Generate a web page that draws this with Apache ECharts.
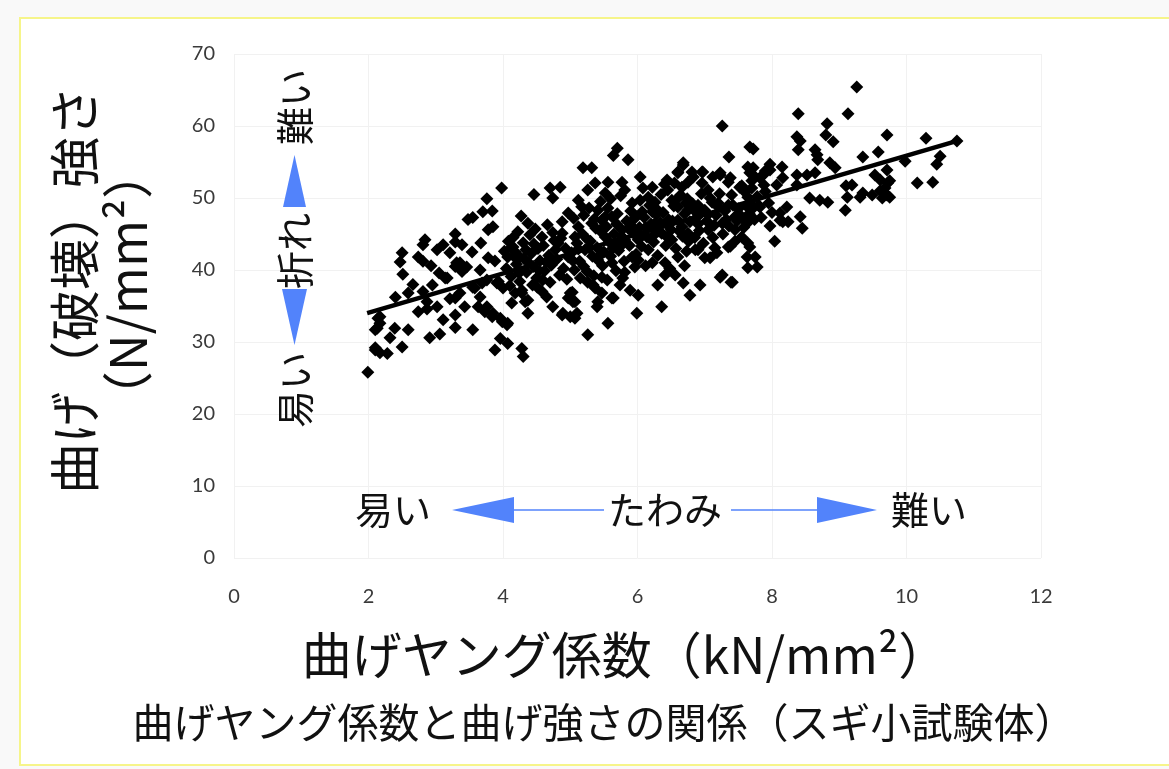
<!DOCTYPE html>
<html>
<head>
<meta charset="utf-8">
<script src="https://cdn.jsdelivr.net/npm/echarts@6/dist/echarts.min.js"></script>
<style>
  html, body { margin: 0; padding: 0; background: #f9f9f9; }
  #frame { position: absolute; left: 19px; top: 17px; width: 1160px; height: 749px;
           background: #ffffff; border: 2px solid #f6f58a; box-sizing: border-box; }
  #chart { position: absolute; left: 0; top: 0; width: 1169px; height: 769px; }
</style>
</head>
<body>
<div id="frame"></div>
<div id="chart"></div>
<script>
// Axis ticks
const xTicks = [0, 2, 4, 6, 8, 10, 12];
const yTicks = [0, 10, 20, 30, 40, 50, 60, 70];

// Specimens: [bending Young's modulus (kN/mm2), bending strength (N/mm2)]
const lowStiffness = [
  [1.99,25.8],[2.10,28.9],[2.28,28.4],[2.32,30.6],[2.50,29.3],[2.10,31.7],[2.39,31.9],[2.59,31.7],
  [2.14,33.3],[2.17,32.6],[2.74,34.2],[2.59,36.8],[2.81,37.0],[2.87,35.6],[3.02,34.9],[3.29,36.1],
  [3.36,36.8],[3.43,34.9],[3.29,33.75],[3.63,34.9],[3.73,34.2],[3.84,33.5],[3.99,32.8],[4.07,32.6],
  [3.11,33.1],[3.29,32.0],[3.55,31.7],[2.91,30.6],[3.06,31.1],[3.96,30.5],[4.07,29.8],[3.88,28.9],
  [4.28,29.1],[4.30,28.0],[4.37,34.0],[4.33,35.6],[4.13,35.4],[4.18,36.8],[3.93,38.4],[4.00,37.5],
  [3.58,37.5],[3.69,38.2],[2.51,39.4],[3.14,38.9],[2.93,40.6],[2.47,41.1],[2.50,42.4],[2.74,41.8],
  [2.81,41.2],[3.36,41.0],[3.29,40.5],[3.39,39.8],[3.78,41.7],[3.88,41.25],[4.13,43.2],[4.18,42.5],
  [4.07,41.8],[3.21,42.4],[3.54,42.5],[3.67,43.75],[3.29,43.9],[3.39,43.5],[3.02,42.8],[3.11,43.5],
  [2.81,43.5],[2.84,44.2],[3.29,45.0],[3.78,45.6],[3.85,46.0],[3.48,47.0],[3.55,47.3],[4.27,47.5],
  [4.37,46.5],[3.70,48.1],[3.84,48.2],[3.76,49.9],[3.98,51.4],[4.46,50.5],[4.70,51.4],[4.74,50.0],
  [4.85,51.5],[2.10,29.2],[2.17,28.5],[2.87,34.6],[3.21,36.0],[2.17,33.5],[2.13,31.9],[3.31,41.0],
  [3.46,40.4],[3.17,38.9],[4.15,43.2],[4.25,41.8],[3.66,40.0],[3.76,38.6],[3.91,38.2],[3.55,37.6],
  [3.66,36.25],[3.76,34.9],[3.85,34.0],[3.96,33.3],[4.06,32.4],[4.28,36.8],[4.37,35.8],[4.51,37.6],
  [4.59,38.6],[4.65,36.25],[4.74,34.9],[2.66,38.0],[2.40,36.2],[2.95,37.9],[3.05,39.6]
];

const midStiffness = [
  [5.70,56.9],[5.64,55.9],[5.86,55.3],[5.19,54.2],[5.32,54.2],[6.04,52.9],[6.68,54.6],[7.36,55.7],
  [7.67,57.1],[7.64,54.3],[7.72,53.2],[6.60,53.5],[6.81,53.6],[6.96,53.6],[7.23,53.5],[7.35,52.2],
  [7.52,51.5],[7.60,50.8],[6.96,52.1],[7.05,51.1],[6.75,52.2],[6.66,51.5],[6.44,52.5],[6.45,51.1],
  [6.22,51.5],[6.16,50.1],[5.77,52.2],[5.81,51.1],[5.56,52.2],[5.52,50.7],[5.37,52.1],[5.26,51.1],
  [5.12,49.7],[5.17,48.8],[4.97,47.9],[4.88,46.7],[5.41,48.3],[5.56,48.6],[5.62,47.4],[5.47,46.9],
  [5.92,49.3],[6.04,49.7],[6.07,48.1],[5.96,47.2],[6.26,49.4],[6.30,48.3],[6.51,49.7],[6.60,48.75],
  [6.74,49.9],[6.75,48.3],[6.90,49.0],[7.00,48.3],[7.11,49.4],[7.20,48.75],[7.35,49.0],[7.45,47.4],
  [7.64,50.1],[7.70,49.0],[7.55,47.4],[7.63,46.5],[4.88,45.1],[5.07,44.6],[5.26,44.2],[5.52,44.6],
  [5.67,43.75],[5.81,44.2],[6.01,44.2],[6.16,42.8],[6.36,45.1],[6.51,44.2],[6.66,46.0],[6.75,45.1],
  [6.86,42.8],[7.00,41.7],[7.15,43.1],[7.35,43.2],[7.64,43.75],[7.63,41.8],[5.92,46.0],[5.77,45.6],
  [5.32,46.5],[5.12,46.0],[6.26,46.5],[6.45,46.25],[7.05,45.6],[7.26,46.5],[7.45,45.6],[7.55,44.6],
  [4.82,43.75],[4.97,41.8],[5.41,41.4],[5.62,41.0],[6.01,41.4],[6.22,41.0],[6.60,41.8],[6.41,41.0],
  [5.47,39.0],[5.26,38.3],[5.37,37.5],[5.47,36.8],[5.41,35.6],[5.03,36.9],[4.97,36.1],[5.07,35.6],
  [4.88,33.75],[5.07,33.3],[5.56,32.6],[5.26,31.0],[5.74,37.9],[5.64,36.1],[5.89,37.2],[6.01,36.5],
  [5.99,34.0],[6.30,37.9],[6.41,39.3],[6.56,39.3],[6.68,38.2],[6.78,36.5],[6.93,37.9],[6.36,34.9],
  [7.23,39.0],[7.41,38.3],[7.64,40.3],[5.81,39.7],[5.96,40.4],[5.00,36.8],[5.04,35.6],[5.10,34.0],
  [4.89,34.0],[5.00,33.5],[5.34,37.9],[5.62,36.1],[5.40,34.9],[7.18,42.4],[7.08,41.7],[6.90,42.8],
  [7.38,43.3],[7.26,39.3],[7.39,38.3],[7.26,60.0],[6.68,54.9],[6.60,53.6],[6.83,52.9],[6.97,53.6],
  [7.12,52.9],[7.23,53.2],[7.38,52.8],[7.67,53.5]
];

const coreStiffness = [
  [4.05,40.2],[4.12,39.1],[4.20,40.8],[4.25,38.4],[4.31,41.6],[4.35,39.7],[4.42,42.3],[4.45,40.5],
  [4.50,38.9],[4.55,41.3],[4.60,43.4],[4.62,39.9],[4.68,42.0],[4.72,40.7],[4.76,44.1],[4.80,41.5],
  [4.84,39.3],[4.15,44.5],[4.22,45.3],[4.30,43.8],[4.40,44.9],[4.48,45.7],[4.58,44.6],[4.66,46.3],
  [4.74,45.2],[4.10,37.8],[4.28,37.2],[4.44,37.9],[4.58,37.0],[4.70,38.3],[4.52,43.0],[4.38,41.0],
  [4.90,40.2],[4.95,38.7],[4.93,43.0],
  [5.02,42.4],[5.06,40.0],[5.10,43.7],[5.14,41.2],[5.18,45.0],[5.22,42.8],[5.25,39.8],[5.30,44.0],
  [5.33,41.9],[5.36,47.1],[5.40,43.1],[5.44,45.5],[5.48,40.6],[5.50,42.5],[5.54,46.0],[5.58,43.9],
  [5.60,41.9],[5.65,45.0],[5.68,39.9],[5.70,47.8],[5.72,42.7],[5.76,44.7],[5.80,41.2],[5.84,46.8],
  [5.88,43.4],[5.90,48.2],[5.94,45.1],[5.98,42.2],[5.20,47.6],[5.28,48.6],[5.45,49.5],[5.60,49.9],
  [5.75,50.3],[5.15,38.9],[5.35,39.2],[5.55,38.6],[5.78,38.9],[5.05,47.2],
  [6.03,45.9],[6.06,43.3],[6.10,47.3],[6.14,44.6],[6.18,49.0],[6.20,46.4],[6.24,43.9],[6.28,47.7],
  [6.32,45.4],[6.35,50.5],[6.38,48.0],[6.42,43.4],[6.46,47.0],[6.50,45.6],[6.54,48.9],[6.57,43.0],
  [6.60,46.9],[6.64,50.4],[6.67,44.7],[6.70,47.8],[6.73,42.6],[6.78,46.7],[6.82,49.2],[6.85,44.5],
  [6.88,47.3],[6.92,45.5],[6.95,50.6],[6.98,43.7],[6.12,40.6],[6.30,42.0],[6.48,40.2],[6.70,40.6],
  [6.08,51.4],[6.40,51.9],[6.55,52.1],
  [7.03,46.8],[7.08,50.0],[7.12,44.5],[7.17,47.6],[7.22,50.6],[7.27,45.0],[7.30,48.2],[7.36,46.1],
  [7.40,50.4],[7.45,44.0],[7.50,48.5],[7.55,51.7],[7.58,45.9],[7.66,47.8],[7.70,52.4],[7.78,50.2],
  [7.84,47.3],[7.90,50.9],[7.95,49.3],[8.00,48.0],
  [4.02,42.6],[4.08,44.0],[4.16,41.9],[4.24,39.6],[4.34,42.8],[4.46,43.6],[4.54,39.9],[4.64,41.1],
  [4.78,42.8],[4.86,44.4],[5.04,41.3],[5.12,42.9],[5.20,40.5],[5.28,43.1],[5.38,45.8],[5.46,42.2],
  [5.52,47.4],[5.63,43.0],[5.69,46.4],[5.78,43.6],[5.86,45.8],[5.92,41.8],[5.97,47.5],[6.05,44.7],
  [6.12,45.9],[6.22,48.1],[6.26,45.0],[6.34,46.6],[6.44,44.6],[6.52,46.8],[6.58,49.8],[6.62,45.4],
  [6.72,49.3],[6.76,44.0],[6.84,48.3],[6.90,46.4],[6.96,48.1],[7.05,47.7],[7.14,46.2],[7.20,49.3],
  [7.32,47.0],[7.42,49.0],[7.48,46.8],[7.62,48.9],[7.74,47.0],[7.80,49.0],[7.88,51.8]
];

const highStiffness = [
  [9.26,65.4],[8.39,61.7],[9.13,61.7],[8.82,60.3],[8.37,58.5],[8.42,57.9],[8.39,56.7],[8.80,58.75],
  [8.91,57.8],[9.71,58.75],[10.29,58.3],[10.75,57.9],[8.64,56.7],[8.67,56.0],[8.68,55.3],[9.35,55.7],
  [9.58,56.4],[9.98,55.1],[10.50,55.8],[10.45,54.7],[10.16,52.1],[10.39,52.2],[8.86,54.9],[8.94,54.2],
  [7.72,56.8],[7.97,54.7],[7.90,53.75],[7.82,52.8],[8.15,54.3],[8.37,53.2],[8.52,53.2],[8.64,53.5],
  [9.53,53.2],[9.71,53.9],[9.75,52.4],[9.19,51.8],[9.35,50.7],[8.07,51.8],[8.37,51.8],[9.61,51.0],
  [9.71,50.4],[7.72,54.2],[7.70,51.4],[8.22,48.75],[8.42,47.4],[8.45,45.8],[7.97,46.1],[8.12,46.9],
  [8.24,46.7],[8.04,44.0],[9.09,48.3],[7.67,43.2],[7.75,41.8],[7.78,40.4],[8.56,50.0],[8.71,49.7],
  [8.83,49.4],[9.12,50.1],[9.31,50.1],[9.49,50.4],[9.64,50.0],[9.75,50.1],[7.82,48.75],[7.72,48.6],
  [9.61,52.5],[9.72,52.1],[9.68,51.4],[9.10,51.7],[8.16,52.8],[7.97,53.9],[7.87,53.2],[8.16,46.7],
  [8.12,47.9]
];

// Regression line end points
const trendModulus = [1.98, 10.78];
const trendStrength = [34.0, 58.0];

const JP = '"Noto Sans CJK JP", "Noto Sans", sans-serif';
const NUM = 'Lato, "Open Sans", sans-serif';
const BLUE = '#5283fb';

const chart = echarts.init(document.getElementById('chart'), null, { renderer: 'canvas' });

const specimens = [].concat(lowStiffness, midStiffness, coreStiffness, highStiffness);
const trend = trendModulus.map((x, i) => [x, trendStrength[i]]);

function tri(points) {
  return { type: 'polygon', shape: { points: points }, style: { fill: BLUE }, z: 100 };
}
function jpText(text, x, y, size, rot) {
  return {
    type: 'text', x: x, y: y, rotation: rot || 0, z: 100,
    style: { text: text, fill: '#111', font: size + 'px ' + JP, align: 'center', verticalAlign: 'middle' }
  };
}

chart.setOption({
  animation: false,
  backgroundColor: 'transparent',
  grid: { left: 234, right: 128, top: 54, bottom: 211, containLabel: false },
  xAxis: {
    type: 'value', min: xTicks[0], max: xTicks[xTicks.length - 1], interval: 2,
    axisLine: { show: false }, axisTick: { show: false },
    splitLine: { show: true, lineStyle: { color: '#f1f1f1', width: 1 } },
    axisLabel: { color: '#3a3a3a', fontSize: 20, fontFamily: NUM, margin: 29 }
  },
  yAxis: {
    type: 'value', min: yTicks[0], max: yTicks[yTicks.length - 1], interval: 10,
    axisLine: { show: false }, axisTick: { show: false },
    splitLine: { show: true, lineStyle: { color: '#f1f1f1', width: 1 } },
    axisLabel: { color: '#3a3a3a', fontSize: 20, fontFamily: NUM, margin: 19 }
  },
  series: [
    {
      type: 'scatter', data: specimens, symbol: 'diamond', symbolSize: 13,
      itemStyle: { color: '#000', opacity: 1 }, z: 2
    },
    {
      type: 'line', data: trend, symbol: 'none', z: 3,
      lineStyle: { color: '#000', width: 4.5 }
    }
  ],
  graphic: [
    // axis titles and caption
    jpText('曲げ（破壊）強さ', 75, 290, 51, Math.PI / 2),
    jpText('（N/mm²）', 128, 285, 51, Math.PI / 2),
    jpText('曲げヤング係数（kN/mm²）', 625, 655, 50),
    jpText('曲げヤング係数と曲げ強さの関係（スギ小試験体）', 604, 722, 41),
    // vertical hint: breaking
    jpText('易い', 295, 390, 38, Math.PI / 2),
    jpText('折れ', 295, 251, 38, Math.PI / 2),
    jpText('難い', 295, 107, 38, Math.PI / 2),
    tri([[283, 207], [306, 207], [294.5, 155]]),
    tri([[282, 289], [307, 289], [294.5, 345]]),
    // horizontal hint: deflection
    jpText('易い', 393, 510, 38),
    jpText('たわみ', 665, 510, 38),
    jpText('難い', 929, 510, 38),
    { type: 'line', shape: { x1: 512, y1: 510, x2: 604, y2: 510 }, style: { stroke: BLUE, lineWidth: 1.6 }, z: 100 },
    { type: 'line', shape: { x1: 731, y1: 510, x2: 819, y2: 510 }, style: { stroke: BLUE, lineWidth: 1.6 }, z: 100 },
    tri([[452, 510], [514, 497], [514, 523]]),
    tri([[877, 510], [817, 497], [817, 523]])
  ]
});
</script>
</body>
</html>
